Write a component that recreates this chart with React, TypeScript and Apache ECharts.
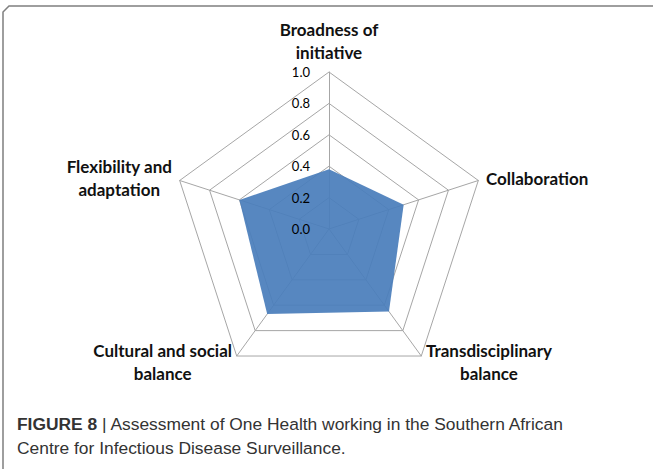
import React, { useEffect, useRef } from "react";
import * as echarts from "echarts";

const indicatorNames = [
  "Broadness of\ninitiative",
  "Flexibility and\nadaptation",
  "Cultural and social\nbalance",
  "Transdisciplinary\nbalance",
  "Collaboration",
];
const scores = [0.38, 0.6, 0.67, 0.65, 0.5];
const tickValues = [0, 0.2, 0.4, 0.6, 0.8, 1.0];
const captionBold = "FIGURE 8";
const captionLine1 = " | Assessment of One Health working in the Southern African";
const captionLine2 = "Centre for Infectious Disease Surveillance.";

export default function App() {
  const ref = useRef<HTMLDivElement>(null);
  useEffect(() => {
    if (!ref.current) return;
    const chart = echarts.init(ref.current, null, { renderer: "svg" });
    const center = [329, 229];
    const radius = 157;
    chart.setOption({
      animation: false,
      backgroundColor: "#ffffff",
      radar: {
        center,
        radius,
        startAngle: 90,
        splitNumber: tickValues.length - 1,
        shape: "polygon",
        indicator: indicatorNames.map((n) => ({ name: n, min: 0, max: 1 })),
        axisName: {
          formatter: (name: string) =>
            name
              .split("\n")
              .map((l) => `{c|${l}}`)
              .join("\n"),
          rich: {
            c: {
              align: "center",
              fontFamily: "Lato",
              fontWeight: "bold",
              fontSize: 17,
              color: "#111111",
              lineHeight: 23,
            },
          },
        },
        nameGap: 8,
        splitLine: { lineStyle: { color: "#a6a6a6", width: 1 } },
        axisLine: { lineStyle: { color: "#a6a6a6", width: 1 } },
        splitArea: { show: false },
        axisTick: { show: false },
        axisLabel: { show: false },
      },
      polar: { center, radius },
      angleAxis: { show: false, startAngle: 90, min: 0, max: 360 },
      radiusAxis: {
        min: tickValues[0],
        max: tickValues[tickValues.length - 1],
        interval: 0.2,
        z: 20,
        axisLine: { show: false },
        axisTick: { show: false },
        splitLine: { show: false },
        axisLabel: {
          show: true,
          formatter: (v: number) => v.toFixed(1),
          fontFamily: "Lato",
          fontSize: 13,
          color: "#000000",
          margin: 19,
        },
      },
      series: [
        {
          type: "radar",
          symbol: "none",
          z: 1,
          lineStyle: { width: 0 },
          areaStyle: { color: "#4a7ebb", opacity: 0.93 },
          data: [{ value: scores }],
        },
      ],
      graphic: [
        {
          type: "polyline",
          shape: { points: [[3, 469], [3, 12], [9, 6], [653, 6]] },
          style: { stroke: "#7f7f7f", lineWidth: 1.5, fill: null },
        },
        {
          type: "text",
          left: 17,
          top: 415,
          style: {
            text: `{b|${captionBold}}{n|${captionLine1}}`,
            rich: {
              b: { fontFamily: "Liberation Sans", fontWeight: "bold", fontSize: 17.4, fill: "#333333" },
              n: { fontFamily: "Liberation Sans", fontSize: 17.4, fill: "#333333" },
            },
          },
        },
        {
          type: "text",
          left: 17,
          top: 439,
          style: {
            text: captionLine2,
            fontFamily: "Liberation Sans",
            fontSize: 17.4,
            fill: "#333333",
          },
        },
      ],
    });
    return () => chart.dispose();
  }, []);
  return (
    <div
      ref={ref}
      style={{ position: "fixed", left: 0, top: 0, width: 653, height: 469 }}
    />
  );
}
